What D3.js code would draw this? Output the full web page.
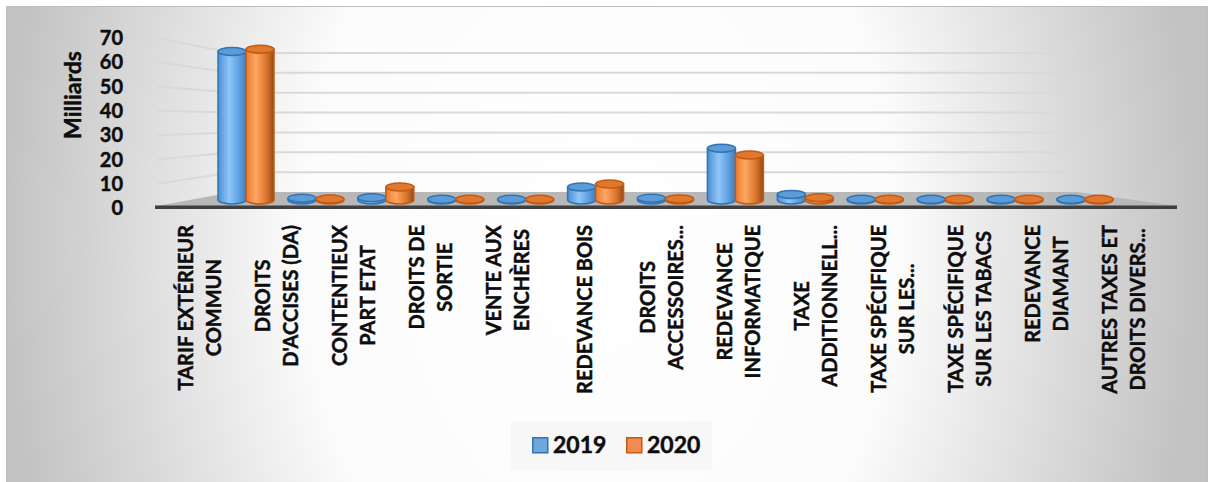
<html>
<head>
<style>
  body { margin: 0; background: #ffffff; }
  svg text { font-family: Lato, "Open Sans", sans-serif; font-weight: bold; fill: #0d0d0d;
             stroke: #0d0d0d; stroke-width: 0.45px; }
</style>
</head>
<body>
<svg id="chart"></svg>
<script src="https://d3js.org/d3.v7.min.js"></script>
<script>
    var width = 1213, height = 482;

    // data (milliards)
    var categories = [
        ["TARIF EXTÉRIEUR", "COMMUN"],
        ["DROITS", "D'ACCISES (DA)"],
        ["CONTENTIEUX", "PART ETAT"],
        ["DROITS DE", "SORTIE"],
        ["VENTE AUX", "ENCHÈRES"],
        ["REDEVANCE BOIS"],
        ["DROITS", "ACCESSOIRES..."],
        ["REDEVANCE", "INFORMATIQUE"],
        ["TAXE", "ADDITIONNELL..."],
        ["TAXE SPÉCIFIQUE", "SUR LES..."],
        ["TAXE SPÉCIFIQUE", "SUR LES TABACS"],
        ["REDEVANCE", "DIAMANT"],
        ["AUTRES TAXES ET", "DROITS DIVERS..."]
    ];
    var values2019 = [66, 0.8, 1.0, 0.3, 0.3, 5.8, 0.8, 23, 2.5, 0.3, 0.3, 0.3, 0.3];
    var values2020 = [67, 0.4, 5.8, 0.3, 0.3, 7.1, 0.5, 20, 1.0, 0.3, 0.3, 0.3, 0.3];
    var seriesNames = ["2019", "2020"];
    var yTicks = [0, 10, 20, 30, 40, 50, 60, 70];

    var svg = d3.select("#chart").attr("width", width).attr("height", height);
    var defs = svg.append("defs");

    // background
    var bg = defs.append("radialGradient").attr("id", "bg")
        .attr("gradientUnits", "userSpaceOnUse")
        .attr("cx", 600).attr("cy", 240).attr("r", 600)
        .attr("gradientTransform", "translate(0,240) scale(1,1.4) translate(0,-240)");
    bg.append("stop").attr("offset", 0).attr("stop-color", "#ffffff");
    bg.append("stop").attr("offset", 0.5).attr("stop-color", "#fbfbfb");
    bg.append("stop").attr("offset", 1).attr("stop-color", "#c2c2c2");

    svg.append("rect").attr("x", 6.5).attr("y", 6.5).attr("width", 1201).attr("height", 480)
        .attr("fill", "url(#bg)").attr("stroke", "#bdbdbd");

    // cylinder gradients
    function cylGrad(id, stops) {
        var g = defs.append("linearGradient").attr("id", id)
            .attr("x1", 0).attr("x2", 1).attr("y1", 0).attr("y2", 0);
        stops.forEach(function (s) { g.append("stop").attr("offset", s[0]).attr("stop-color", s[1]); });
    }
    cylGrad("g2019", [[0, "#4b8fd2"], [0.4, "#8fc6f7"], [0.75, "#5fa0df"], [1, "#3f7fc0"]]);
    cylGrad("g2020", [[0, "#ea7a2f"], [0.35, "#ffa762"], [0.75, "#d9722b"], [1, "#8e4a1a"]]);
    var edge = {"2019": "#2f75b5", "2020": "#c55a11"};
    var topFill = {"2019": "#5d9bd6", "2020": "#e0782f"};

    // scales
    var xLabel = d3.scalePoint().domain(d3.range(categories.length)).range([200, 1124]);
    var xBar = d3.scalePoint().domain(d3.range(categories.length)).range([246, 1085]);
    var yFront = d3.scaleLinear().domain([0, 70]).range([208, 38]);
    var yBack = d3.scaleLinear().domain([0, 70]).range([192, 53]);
    var yBar = d3.scaleLinear().domain([0, 70]).range([200, 42.5]);

    // gridlines (side wall + back wall)
    svg.append("g").selectAll("polyline")
        .data(yTicks.filter(function (t) { return t > 0; }))
        .enter().append("polyline")
        .attr("points", function (t) {
            return [[157, yFront(t)], [233, yBack(t)], [1078, yBack(t)]].join(" ");
        })
        .attr("fill", "none").attr("stroke", "#d9d9d9").attr("stroke-width", 2);

    // floor
    svg.append("polygon")
        .attr("points", [[157, 206], [233, yBack(0)], [1078, yBack(0)], [1177, 206]].join(" "))
        .attr("fill", "#b8b8b8");
    svg.append("rect").attr("x", 155).attr("y", 205.5).attr("width", 1022).attr("height", 3.5)
        .attr("fill", "#3f3f3f");

    // y axis labels
    svg.append("g").selectAll("text").data(yTicks).enter().append("text")
        .attr("x", 123).attr("y", function (t) { return yFront(t); })
        .attr("dy", "0.36em").attr("text-anchor", "end")
        .style("font-size", "20px")
        .text(function (t) { return t; });

    svg.append("text")
        .attr("transform", "translate(81,95) rotate(-90)")
        .attr("text-anchor", "middle")
        .style("font-size", "23px")
        .text("Milliards");

    // cylinders
    var r = 14, ry = 4;
    var bars = [];
    categories.forEach(function (c, i) {
        bars.push({i: i, s: "2019", v: values2019[i], cx: xBar(i) - r});
        bars.push({i: i, s: "2020", v: values2020[i], cx: xBar(i) + r});
    });

    var cyl = svg.append("g").selectAll("g").data(bars).enter().append("g");
    cyl.append("path")
        .attr("d", function (d) {
            var yt = yBar(d.v), yb = yBar(0);
            return "M" + (d.cx - r) + "," + yt + "L" + (d.cx - r) + "," + yb +
                "A" + r + "," + ry + " 0 0 0 " + (d.cx + r) + "," + yb +
                "L" + (d.cx + r) + "," + yt + "Z";
        })
        .attr("fill", function (d) { return "url(#g" + d.s + ")"; })
        .attr("stroke", function (d) { return edge[d.s]; })
        .attr("stroke-width", 1.5);
    cyl.append("ellipse")
        .attr("cx", function (d) { return d.cx; })
        .attr("cy", function (d) { return yBar(d.v); })
        .attr("rx", r).attr("ry", ry)
        .attr("fill", function (d) { return topFill[d.s]; })
        .attr("stroke", function (d) { return edge[d.s]; })
        .attr("stroke-width", 1.5);

    // category labels (rotated, lines centred, block ending at y=225)
    var labels = svg.append("g").selectAll("g").data(categories).enter().append("g");
    labels.each(function (lines, i) {
        var g = d3.select(this);
        var n = lines.length;
        var texts = g.selectAll("text").data(lines).enter().append("text")
            .style("font-size", "20px")
            .attr("text-anchor", "middle")
            .attr("dy", "0.36em")
            .attr("y", function (l, k) { return (k - (n - 1) / 2) * 28; })
            .text(function (l) { return l; });
        var w = d3.max(texts.nodes(), function (t) { return t.getComputedTextLength(); });
        texts.attr("x", -w / 2);
        g.attr("transform", "translate(" + xLabel(i) + ",225) rotate(-90)");
    });

    // legend
    var legend = svg.append("g");
    legend.append("rect").attr("x", 511).attr("y", 421).attr("width", 201).attr("height", 49)
        .attr("fill", "#f7f7f7");
    var le = legend.selectAll("g.item").data(seriesNames).enter().append("g")
        .attr("class", "item")
        .attr("transform", function (d, i) { return "translate(" + (532 + i * 94) + ",437)"; });
    le.append("rect").attr("x", 0.75).attr("y", 0.75).attr("width", 15).attr("height", 15)
        .attr("fill", function (d) { return d == "2019" ? "#6fa6dc" : "#f08c4f"; })
        .attr("stroke", function (d) { return edge[d]; }).attr("stroke-width", 1.5);
    le.append("text").attr("x", 21).attr("y", 8).attr("dy", "0.36em")
        .style("font-size", "23px")
        .text(function (d) { return d; });
</script>
</body>
</html>
